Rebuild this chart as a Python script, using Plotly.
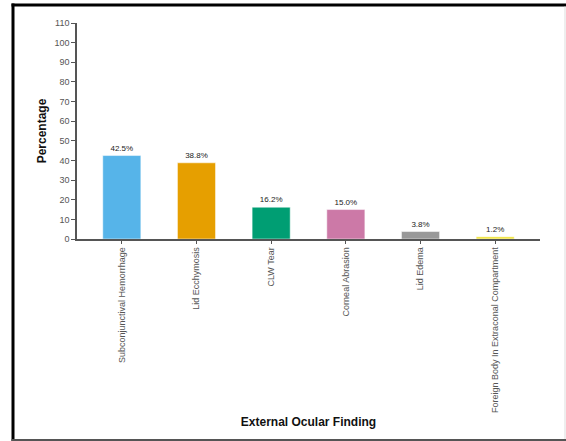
import plotly.graph_objects as go

categories = ["Subconjunctival Hemorrhage", "Lid Ecchymosis", "CLW Tear",
              "Corneal Abrasion", "Lid Edema", "Foreign Body In Extraconal Compartment"]
values = [42.5, 38.8, 16.2, 15.0, 3.8, 1.2]
labels = ["42.5%", "38.8%", "16.2%", "15.0%", "3.8%", "1.2%"]
colors = ["#56B4E9", "#E69F00", "#009E73", "#CC79A7", "#999999", "#F0E442"]
ytick_vals = list(range(0, 111, 10))

W, H = 566, 441
L, R, T, B = 77, 26, 23, 202
pw, ph = W - L - R, H - T - B

def px_x(px):
    return (px - L) / pw

def px_y(py):
    return (H - B - py) / ph

def frame_rect(x0, y0, x1, y1, color):
    return dict(type="rect", xref="paper", yref="paper",
                x0=px_x(x0), x1=px_x(x1), y0=px_y(y1), y1=px_y(y0),
                fillcolor=color, line=dict(width=0), layer="above")

fig = go.Figure(go.Bar(
    x=categories, y=values, text=labels, textposition="outside",
    textfont=dict(size=8, color="#222", family="Liberation Sans, Arial"),
    marker=dict(color=colors, line=dict(color="rgba(255,255,255,0.5)", width=1)),
    width=0.51, cliponaxis=False,
))

fig.update_layout(
    width=W, height=H,
    margin=dict(l=L, r=R, t=T, b=B, pad=0, autoexpand=False),
    paper_bgcolor="white", plot_bgcolor="white",
    showlegend=False,
    font=dict(family="Liberation Sans, Arial", color="#444"),
    xaxis=dict(
        range=[-0.6, 5.6], showline=True, linecolor="#555", linewidth=1.5,
        ticks="outside", ticklen=3, tickcolor="#555", tickangle=-90,
        tickfont=dict(size=9, color="#555"), showgrid=False, automargin=False,
        title=dict(text="<b>External Ocular Finding</b>", font=dict(size=12, color="#111"), standoff=6),
    ),
    yaxis=dict(
        range=[0, 110], tickvals=ytick_vals, showline=True, linecolor="#555", linewidth=1.5,
        ticks="outside", ticklen=4, tickcolor="#555",
        tickfont=dict(size=9, color="#555"), showgrid=False, zeroline=False, automargin=False,
        title=dict(text="<b>Percentage</b>", font=dict(size=12, color="#111"), standoff=5),
    ),
    shapes=[
        frame_rect(11.5, 3.5, 14.5, 441, "black"),
        frame_rect(11.5, 3.5, 566, 6.5, "black"),
        frame_rect(564.5, 6.5, 565.5, 441, "#dddddd"),
        frame_rect(11.5, 439, 566, 441, "#555555"),
    ],
)

fig.write_html("out.html", config={"displayModeBar": False},
               post_script="document.body.style.margin='0';document.body.style.overflow='hidden';")
